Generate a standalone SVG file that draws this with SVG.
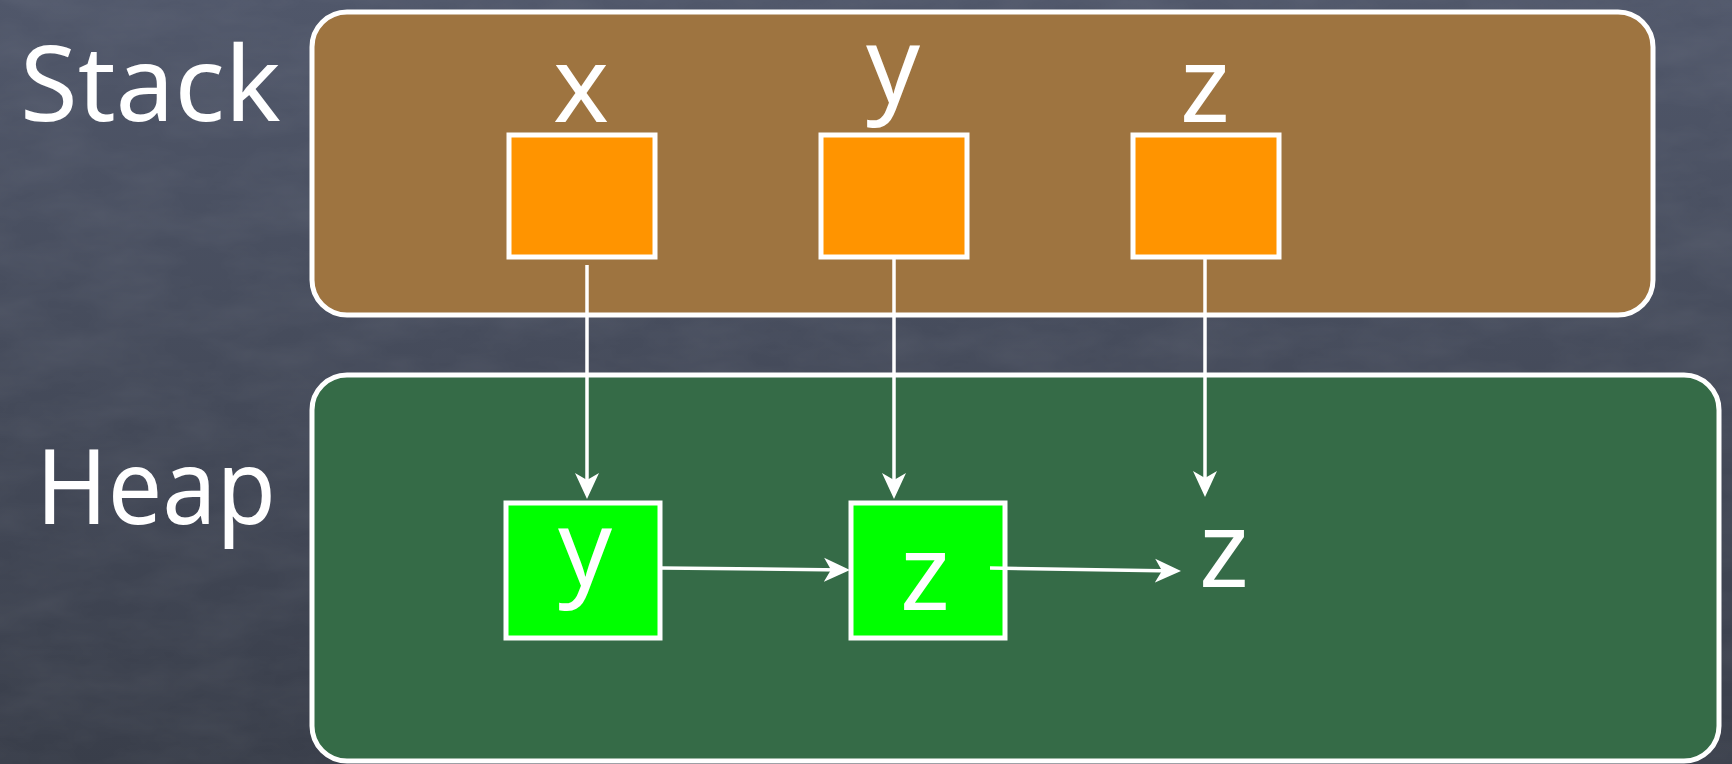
<svg xmlns="http://www.w3.org/2000/svg" width="1732" height="764" viewBox="0 0 1732 764">
  <style>
    .lbl { font-family: "Noto Sans", "DejaVu Sans", sans-serif; fill: #ffffff; }
    .big { font-size: 105px; }
    .small { font-size: 106px; text-anchor: middle; }
    .panel { stroke: #ffffff; stroke-width: 5; }
    .var { fill: #ff9400; stroke: #ffffff; stroke-width: 5; }
    .obj { fill: #00ff00; stroke: #ffffff; stroke-width: 5; }
    .conn { stroke: #ffffff; stroke-width: 3.5; fill: none; marker-end: url(#arrow); }
  </style>
  <defs>
    <linearGradient id="bg" x1="0" y1="0" x2="0" y2="1">
      <stop offset="0" stop-color="#50576a"/>
      <stop offset="1" stop-color="#393e4a"/>
    </linearGradient>
    <filter id="chalk" x="0" y="0" width="100%" height="100%">
      <feTurbulence type="fractalNoise" baseFrequency="0.012 0.03" numOctaves="4" seed="7"/>
      <feColorMatrix type="matrix" values="0 0 0 0 1  0 0 0 0 1  0 0 0 0 1  0 0 0 0.08 -0.025"/>
    </filter>
    <marker id="arrow" viewBox="0 0 26 26" markerWidth="26" markerHeight="26" refX="21" refY="13" orient="auto" markerUnits="userSpaceOnUse">
      <path d="M0,1 L26,13 L0,25 L7,13 Z" fill="#ffffff"/>
    </marker>
  </defs>

  <rect x="0" y="0" width="1732" height="764" fill="url(#bg)"/>
  <rect x="0" y="0" width="1732" height="764" filter="url(#chalk)"/>

  <g id="stack-panel">
    <rect class="panel" x="312" y="12" width="1341" height="303" rx="35" fill="#9e7440"/>
    <text class="lbl big" x="20" y="121">Stack</text>
  </g>
  <g id="heap-panel">
    <rect class="panel" x="312" y="375" width="1407" height="386" rx="35" fill="#356b47"/>
    <text class="lbl big" x="36" y="524" textLength="240" lengthAdjust="spacingAndGlyphs">Heap</text>
  </g>

  <g id="var-x">
    <rect class="var" x="509" y="135" width="146" height="122"/>
    <text class="lbl small" x="581" y="122">x</text>
  </g>
  <g id="var-y">
    <rect class="var" x="821" y="135" width="146" height="122"/>
    <text class="lbl small" x="893" y="103" font-size="96">y</text>
  </g>
  <g id="var-z">
    <rect class="var" x="1133" y="135" width="146" height="122"/>
    <text class="lbl small" x="1205" y="122">z</text>
  </g>

  <g id="obj-y">
    <rect class="obj" x="506" y="503" width="154" height="135"/>
    <text class="lbl small" x="585" y="586">y</text>
  </g>
  <g id="obj-z">
    <rect class="obj" x="851" y="503" width="154" height="135"/>
    <text class="lbl small" x="925" y="610">z</text>
  </g>
  <g id="val-z">
    <text class="lbl small" x="1224" y="587">z</text>
  </g>

  <g id="connectors">
    <line class="conn" x1="587" y1="265" x2="587" y2="494"/>
    <line class="conn" x1="894" y1="258" x2="894" y2="494"/>
    <line class="conn" x1="1205" y1="258" x2="1205" y2="492"/>
    <line class="conn" x1="661" y1="568" x2="845" y2="570"/>
    <line class="conn" x1="990" y1="568" x2="1176" y2="571"/>
  </g>
</svg>
